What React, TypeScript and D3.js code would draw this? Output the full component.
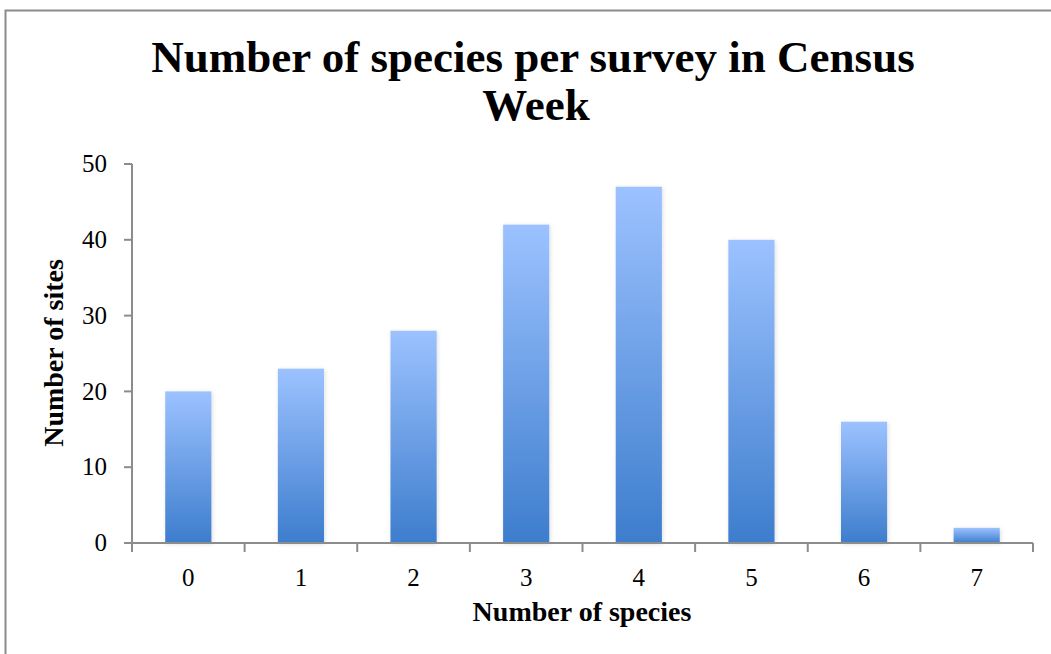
import React from "react";
import * as d3 from "d3";

const categories = ["0", "1", "2", "3", "4", "5", "6", "7"];
const sites = [20, 23, 28, 42, 47, 40, 16, 2];
const yTicks = [0, 10, 20, 30, 40, 50];
const title1 = "Number of species per survey in Census";
const title2 = "Week";
const xTitle = "Number of species";
const yTitle = "Number of sites";

const W = 1051;
const H = 654;
const FONT = "'Liberation Serif', 'DejaVu Serif', serif";

export default function App() {
  const left = 132, right = 1033, top = 164, bottom = 543;
  const x = d3.scaleBand<string>().domain(categories).range([left, right]).paddingInner(0.59).paddingOuter(0.295);
  const band = d3.scaleBand<string>().domain(categories).range([left, right]);
  const y = d3.scaleLinear().domain([0, 50]).range([bottom, top]);
  const axisColor = "#8c8c8c";

  return (
    <svg width={W} height={H} style={{ position: "absolute", left: 0, top: 0, background: "#fff" }}>
      <defs>
        <linearGradient id="barGrad" x1="0" y1="0" x2="0" y2="1">
          <stop offset="0%" stopColor="#9cc2ff" />
          <stop offset="100%" stopColor="#3d7dcd" />
        </linearGradient>
        <filter id="shadow" x="-20%" y="-20%" width="140%" height="140%">
          <feDropShadow dx="1" dy="1" stdDeviation="2.2" floodColor="#000" floodOpacity="0.13" />
        </filter>
      </defs>
      <rect x={5.5} y={10.5} width={W + 10} height={H + 10} fill="#fff" stroke="#8c8c8c" strokeWidth={2} />
      <text x={533} y={72} textAnchor="middle" fontFamily={FONT} fontWeight="bold" fontSize={45}>{title1}</text>
      <text x={536} y={120} textAnchor="middle" fontFamily={FONT} fontWeight="bold" fontSize={45}>{title2}</text>

      {categories.map((c, i) => (
        <rect key={c} x={x(c)} y={y(sites[i])} width={x.bandwidth()} height={bottom - y(sites[i])}
          fill="url(#barGrad)" filter="url(#shadow)" />
      ))}

      <line x1={left} y1={top} x2={left} y2={bottom} stroke={axisColor} strokeWidth={2} />
      {yTicks.map(t => (
        <g key={t}>
          <line x1={left - 8} x2={left} y1={y(t)} y2={y(t)} stroke={axisColor} strokeWidth={2} />
          <text x={107} y={y(t)} dy="0.33em" textAnchor="end" fontFamily={FONT} fontSize={25}>{t}</text>
        </g>
      ))}
      <line x1={left} y1={bottom} x2={right} y2={bottom} stroke={axisColor} strokeWidth={2} />
      {categories.map(c => (
        <line key={"t" + c} x1={band(c)!} x2={band(c)!} y1={bottom} y2={bottom + 9} stroke={axisColor} strokeWidth={2} />
      ))}
      <line x1={right} x2={right} y1={bottom} y2={bottom + 9} stroke={axisColor} strokeWidth={2} />
      {categories.map(c => (
        <text key={"l" + c} x={band(c)! + band.bandwidth() / 2} y={586} textAnchor="middle" fontFamily={FONT} fontSize={25}>{c}</text>
      ))}
      <text x={582} y={621} textAnchor="middle" fontFamily={FONT} fontWeight="bold" fontSize={28}>{xTitle}</text>
      <text transform="translate(63,353) rotate(-90)" textAnchor="middle" fontFamily={FONT} fontWeight="bold" fontSize={28}>{yTitle}</text>
    </svg>
  );
}
